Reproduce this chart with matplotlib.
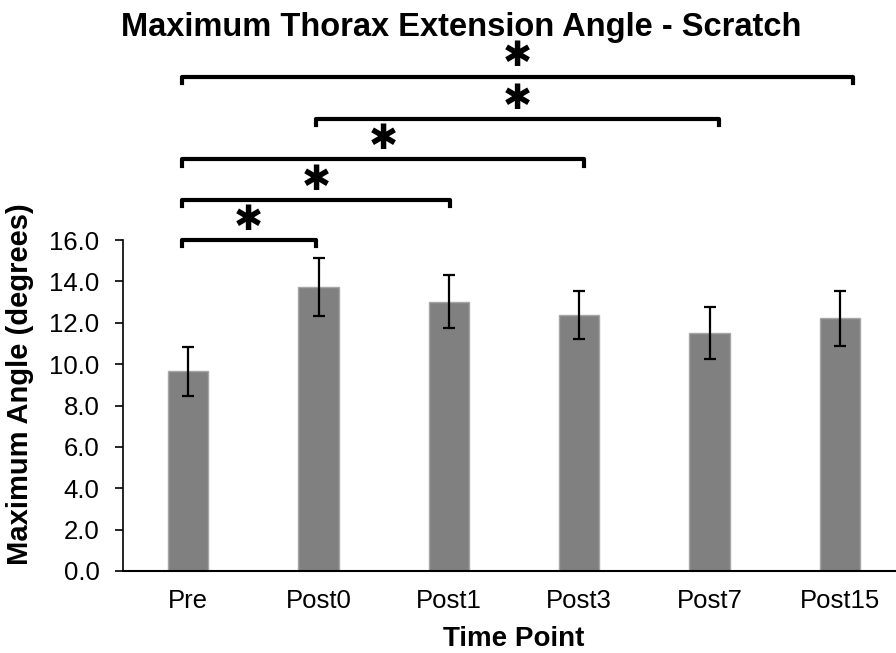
import matplotlib.pyplot as plt
import numpy as np

# chart data
time_points = ['Pre', 'Post0', 'Post1', 'Post3', 'Post7', 'Post15']
mean_angle = [9.65, 13.74, 13.02, 12.37, 11.49, 12.21]
angle_err = [1.2, 1.4, 1.27, 1.15, 1.26, 1.32]

# significance brackets (pairs of time points) and their heights
sig_pairs = [('Pre', 'Post0'), ('Pre', 'Post1'), ('Pre', 'Post3'),
             ('Post0', 'Post7'), ('Pre', 'Post15')]
sig_levels = [16.0, 17.95, 19.9, 21.85, 23.9]


def plot():
    plt.rcParams['font.family'] = ['Liberation Sans', 'DejaVu Sans']
    fig = plt.figure(figsize=(8.96, 6.53), dpi=100)
    ax = fig.add_axes([123 / 896, 82 / 653, 782 / 896, 331 / 653])

    x = np.arange(len(time_points))
    ax.bar(x, mean_angle, width=0.31, color='#808080', edgecolor='#a6a6a6',
           linewidth=1.0, zorder=2)
    ax.errorbar(x, mean_angle, yerr=angle_err, fmt='none', ecolor='black',
                elinewidth=1.6, capsize=4.5, capthick=1.6, zorder=3)

    ax.set_xlim(-0.5, len(time_points) - 0.5)
    ax.set_ylim(0, 16)
    ax.set_yticks(np.arange(0, 16.1, 2))
    ax.set_yticklabels([f'{v:.1f}' for v in np.arange(0, 16.1, 2)])
    ax.set_xticks(x)
    ax.set_xticklabels(time_points)
    ax.tick_params(axis='y', direction='out', length=6, width=1.2,
                   labelsize=18.5, pad=11)
    ax.tick_params(axis='x', length=0, labelsize=18.5, pad=13)

    for side in ['top', 'right']:
        ax.spines[side].set_visible(False)
    ax.spines['left'].set_linewidth(1.2)
    ax.spines['bottom'].set_linewidth(1.5)

    ax.set_xlabel('Time Point', fontsize=20, fontweight='bold', labelpad=9)
    ax.set_ylabel('Maximum Angle (degrees)', fontsize=21,
                  fontweight='bold')
    ax.yaxis.set_label_coords(-0.114, 0.565)
    fig.text(0.515, 0.958, 'Maximum Thorax Extension Angle - Scratch',
             fontsize=23.5, fontweight='bold', ha='center', va='center')

    # brackets with asterisks
    idx = {name: i for i, name in enumerate(time_points)}
    for (a, b), lvl in zip(sig_pairs, sig_levels):
        x0 = idx[a] * 1.03 - 0.05
        x1 = idx[b] * 1.03 - 0.05
        ax.plot([x0, x0, x1, x1], [lvl - 0.3, lvl, lvl, lvl - 0.3],
                color='black', linewidth=3, clip_on=False,
                solid_joinstyle='round', zorder=4)
        ax.text((x0 + x1) / 2, lvl + 0.15, '\u2731', fontsize=25,
                ha='center', va='bottom', family=['DejaVu Sans'],
                clip_on=False)

    fig.savefig('out.png', dpi=100)


def main():
    plot()


if __name__ == "__main__":
    main()
